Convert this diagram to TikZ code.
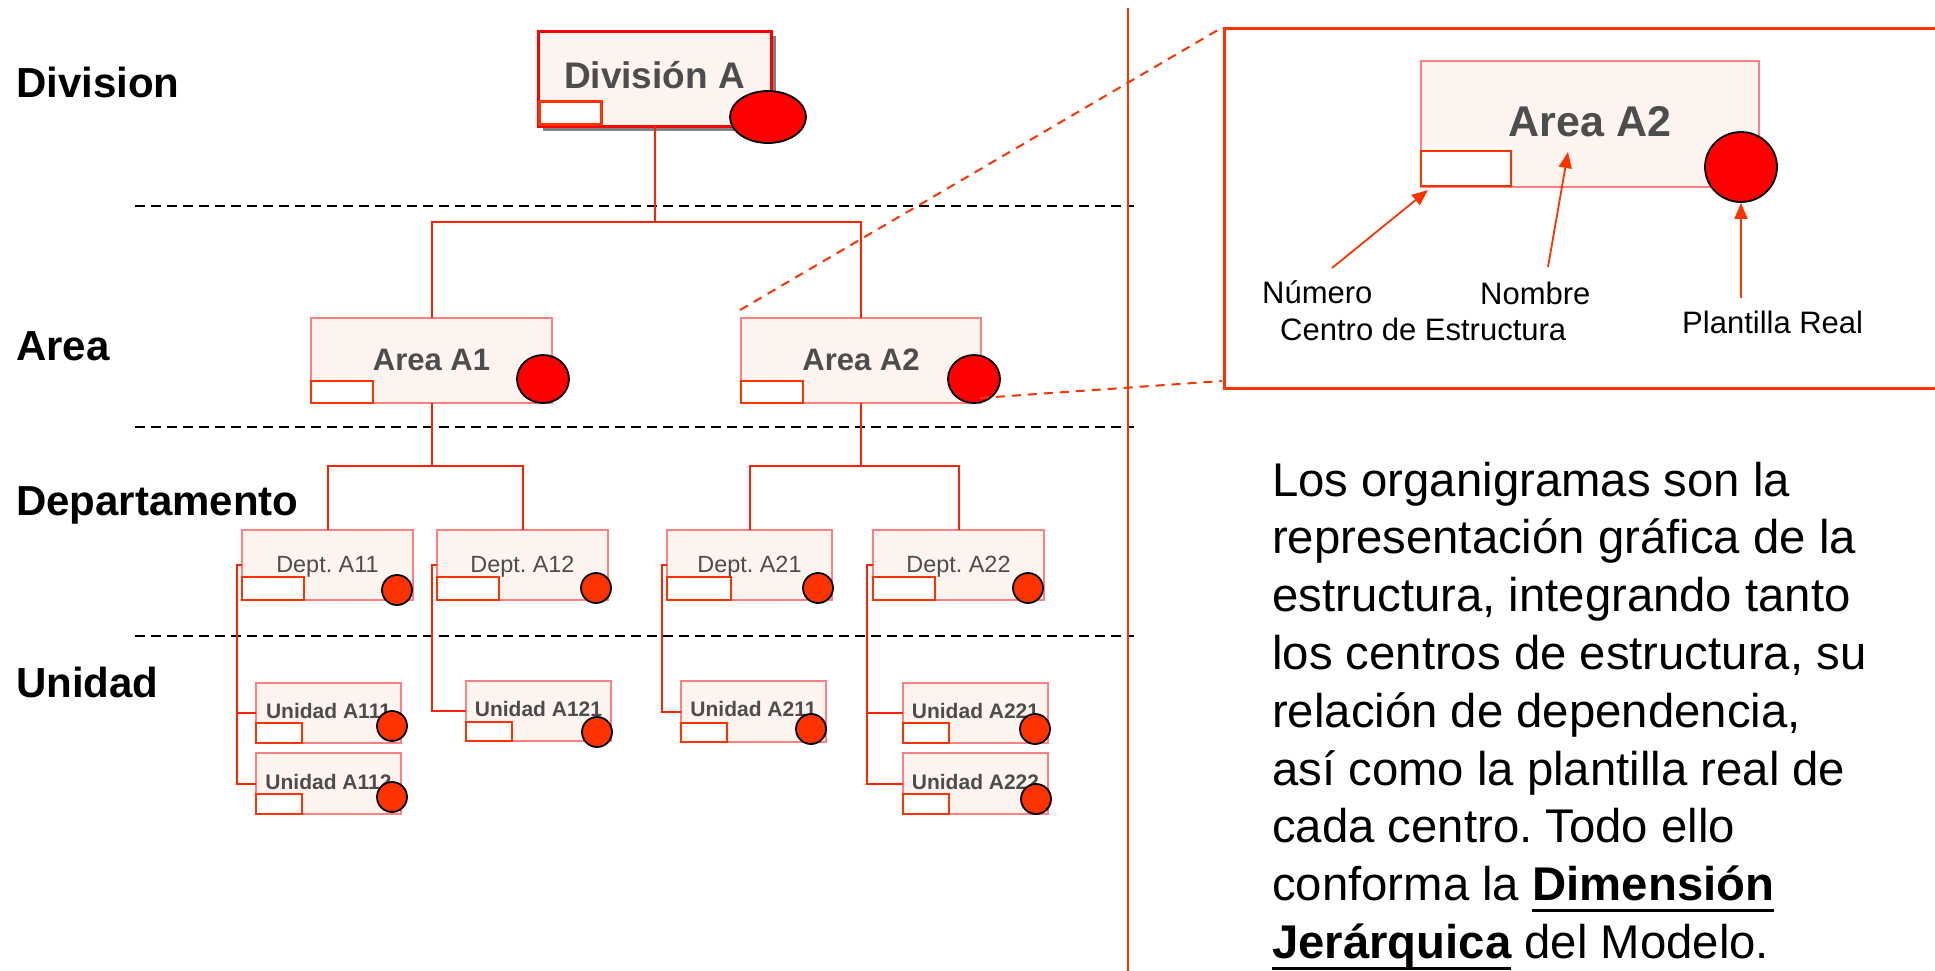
\documentclass[tikz,border=0pt]{standalone}
\usepackage{fontspec}
\usepackage{graphicx}
\setmainfont{Liberation Sans}
\frenchspacing
\usetikzlibrary{shapes.geometric,arrows.meta}
\definecolor{boxfill}{RGB}{253,243,239}
\definecolor{boxline}{RGB}{255,128,128}
\definecolor{orng}{RGB}{255,51,0}
\definecolor{conncol}{RGB}{255,34,0}
\definecolor{txtgray}{RGB}{77,77,77}
\definecolor{shadowgray}{RGB}{128,128,128}
\newcommand\ulbox[1]{\setbox0\hbox{#1}\rlap{\rule[-11pt]{\wd0}{3pt}}\box0\relax}
\begin{document}
\begin{tikzpicture}[x=1pt,y=-1pt,
  orgbox/.style={draw=boxline, fill=boxfill, line width=2pt, rectangle, inner sep=0pt, outer sep=0pt},
  numbox/.style={draw=orng, fill=white, line width=2.2pt, rectangle, inner sep=0pt, outer sep=0pt, anchor=south west},
  dot/.style={circle, draw=black, line width=1.8pt, fill=orng, inner sep=0pt, minimum size=30pt},
  bigdot/.style={ellipse, draw=black, line width=1.8pt, fill=red, inner sep=0pt},
  conn/.style={draw=conncol, line width=2pt},
  lvl/.style={font=\fontsize{42}{42}\selectfont\bfseries, anchor=base west, inner sep=0pt},
  sepline/.style={black, line width=2pt, dash pattern=on 10pt off 6pt},
  zoomline/.style={orng, line width=2pt, dash pattern=on 9pt off 7pt},
  arr/.style={orng, line width=1.8pt, -{Triangle[length=16pt,width=13pt]}},
  divtxt/.style={font=\fontsize{37}{37}\selectfont\bfseries, text=txtgray, anchor=base, inner sep=0pt},
  areatxt/.style={font=\fontsize{31}{31}\selectfont\bfseries, text=txtgray, anchor=base, inner sep=0pt},
  depttxt/.style={font=\fontsize{23.4}{23.4}\selectfont, text=txtgray, anchor=base, inner sep=0pt},
  unittxt/.style={font=\fontsize{21}{21}\selectfont\bfseries, text=txtgray, anchor=base, inner sep=0pt},
  lbl/.style={font=\fontsize{31}{31}\selectfont, anchor=base west, inner sep=0pt}
]
\useasboundingbox (0,0) rectangle (1935,970);

% level separators
\draw[sepline] (135,206) -- (1134,206);
\draw[sepline] (135,427) -- (1134,427);
\draw[sepline] (135,636) -- (1134,636);

% vertical separator
\draw[orng, line width=2.5pt] (1128,8) -- (1128,975);

% level labels
\node[lvl] (lDiv) at (16,97) {Division};
\node[lvl] (lArea) at (16,360) {Area};
\node[lvl] (lDep) at (16,515) {Departamento};
\node[lvl] (lUni) at (16,697) {Unidad};

% ---- boxes ----
\node[fill=shadowgray, inner sep=0pt, minimum width=233pt, minimum height=95pt] (divsh) at (659.5,83.5) {};
\node[orgbox, draw=red, line width=3pt, minimum width=233pt, minimum height=95pt] (div) at (654.5,78.5) {};

\node[orgbox, minimum width=241pt, minimum height=85pt] (a1) at (431.5,360.5) {};
\node[orgbox, minimum width=240pt, minimum height=85pt] (a2) at (861,360.5) {};

\node[orgbox, minimum width=171pt, minimum height=70pt] (d11) at (327.5,565) {};
\node[orgbox, minimum width=171pt, minimum height=70pt] (d12) at (522.5,565) {};
\node[orgbox, minimum width=165pt, minimum height=70pt] (d21) at (749.5,565) {};
\node[orgbox, minimum width=171pt, minimum height=70pt] (d22) at (958.5,565) {};

\node[orgbox, minimum width=145pt, minimum height=60pt] (u111) at (328.5,713) {};
\node[orgbox, minimum width=145pt, minimum height=61pt] (u112) at (328.5,783.5) {};
\node[orgbox, minimum width=145pt, minimum height=60pt] (u121) at (538.5,711) {};
\node[orgbox, minimum width=145pt, minimum height=61pt] (u211) at (753.5,711.5) {};
\node[orgbox, minimum width=145pt, minimum height=60pt] (u221) at (975.5,713) {};
\node[orgbox, minimum width=145pt, minimum height=61pt] (u222) at (975.5,783.5) {};

% ---- connectors ----
\coordinate (h1) at (654.5,222);
\draw[conn] (div.south) -- (h1);
\draw[conn] (h1) -| (a1.north);
\draw[conn] (h1) -| (a2.north);

\coordinate (h2) at (431.5,466);
\draw[conn] (a1.south) -- (h2);
\draw[conn] (h2) -| (d11.north);
\draw[conn] (h2) -| (d12.north);

\coordinate (h3) at (861,466);
\draw[conn] (a2.south) -- (h3);
\draw[conn] (h3) -| (d21.north);
\draw[conn] (h3) -| (d22.north);

\draw[conn] (d11.west) -- ++(-5,0) |- (u112.west);
\draw[conn] (d11.west) ++(-5,0) |- (u111.west);
\draw[conn] (d12.west) -- ++(-5,0) |- (u121.west);
\draw[conn] (d21.west) -- ++(-5,0) |- (u211.west);
\draw[conn] (d22.west) -- ++(-6,0) |- (u222.west);
\draw[conn] (d22.west) ++(-6,0) |- (u221.west);

% ---- number boxes ----
\node[numbox, minimum width=62pt, minimum height=23pt] (divn) at ([xshift=1.5pt,yshift=1.5pt]div.south west) {};
\node[numbox, minimum width=62pt, minimum height=22pt] (a1n) at (a1.south west) {};
\node[numbox, minimum width=62pt, minimum height=22pt] (a2n) at (a2.south west) {};
\node[numbox, minimum width=62pt, minimum height=23pt] (d11n) at (d11.south west) {};
\node[numbox, minimum width=62pt, minimum height=23pt] (d12n) at (d12.south west) {};
\node[numbox, minimum width=64pt, minimum height=23pt] (d21n) at (d21.south west) {};
\node[numbox, minimum width=62pt, minimum height=23pt] (d22n) at (d22.south west) {};
\node[numbox, minimum width=46pt, minimum height=20pt] (u111n) at (u111.south west) {};
\node[numbox, minimum width=46pt, minimum height=20pt] (u112n) at (u112.south west) {};
\node[numbox, minimum width=46pt, minimum height=19pt] (u121n) at (u121.south west) {};
\node[numbox, minimum width=46pt, minimum height=19pt] (u211n) at (u211.south west) {};
\node[numbox, minimum width=46pt, minimum height=20pt] (u221n) at (u221.south west) {};
\node[numbox, minimum width=46pt, minimum height=20pt] (u222n) at (u222.south west) {};

% ---- texts ----
\node[divtxt] (divt) at (654.5,88) {División A};
\node[areatxt] (a1t) at (431.5,370) {Area A1};
\node[areatxt] (a2t) at (861,370) {Area A2};
\node[depttxt] (d11t) at (327.5,572) {Dept. A11};
\node[depttxt] (d12t) at (522.5,572) {Dept. A12};
\node[depttxt] (d21t) at (749.5,572) {Dept. A21};
\node[depttxt] (d22t) at (958.5,572) {Dept. A22};
\node[unittxt] (u111t) at (328.5,718) {Unidad A111};
\node[unittxt] (u112t) at (328.5,789) {Unidad A112};
\node[unittxt] (u121t) at (538.5,716) {Unidad A121};
\node[unittxt] (u211t) at (753.5,716) {Unidad A211};
\node[unittxt] (u221t) at (975.5,718) {Unidad A221};
\node[unittxt] (u222t) at (975.5,789) {Unidad A222};

% ---- headcount dots ----
\node[bigdot, minimum width=76pt, minimum height=52pt] (divc) at (768,117) {};
\node[bigdot, minimum width=52pt, minimum height=48pt] (a1c) at (543,379) {};
\node[bigdot, minimum width=52pt, minimum height=48pt] (a2c) at (974,379) {};
\node[dot] (d11c) at (397,590) {};
\node[dot] (d12c) at (596,588) {};
\node[dot] (d21c) at (818,588) {};
\node[dot] (d22c) at (1028,588) {};
\node[dot] (u111c) at (392,726) {};
\node[dot] (u112c) at (392,797) {};
\node[dot] (u121c) at (597,732) {};
\node[dot] (u211c) at (811,729) {};
\node[dot] (u221c) at (1035,729) {};
\node[dot] (u222c) at (1036,799) {};

% ---- zoom panel ----
\node[draw=orng, line width=2.5pt, inner sep=0pt, minimum width=725pt, minimum height=360pt, anchor=north west] (panel) at (1223,27) {};
\coordinate (z1) at (740,310);
\coordinate (z2) at (980,398);
\coordinate (z3) at (1222,381);
\draw[zoomline] (z1) -- (panel.north west);
\draw[zoomline] (z2) -- (z3);

\node[orgbox, minimum width=338pt, minimum height=126pt] (za) at (1590,124) {};
\node[numbox, minimum width=90pt, minimum height=35pt] (zan) at ([yshift=1pt]za.south west) {};
\node[font=\fontsize{43}{43}\selectfont\bfseries, text=txtgray, anchor=base, inner sep=0pt] (zat) at (1590,136) {Area A2};
\node[bigdot, minimum width=72pt, minimum height=70pt] (zac) at (1741,167) {};

\node[lbl] (lnum) at (1262,303) {Número};
\node[lbl] (lnom) at (1480,304) {Nombre};
\node[lbl] (lcen) at (1280,340) {Centro de Estructura};
\node[lbl] (lpla) at (1682,333) {Plantilla Real};

\coordinate (t1) at (1332,268);
\coordinate (t2) at (1548,267);
\coordinate (t3) at (1741,298);
\coordinate (p1) at (1428,190);
\coordinate (p2) at (1568,152);
\draw[arr] (t1) -- (p1);
\draw[arr] (t2) -- (p2);
\draw[arr] (t3) -- (zac.south);

% ---- paragraph ----
\node[anchor=north west, inner sep=0pt] (para) at (1272,455.5) {\fontsize{47.3}{57.8}\selectfont\begin{tabular}{@{}l@{}}
Los organigramas son la\\
representación gráfica de la\\
estructura, integrando tanto\\
los centros de estructura, su\\
relación de dependencia,\\
así como la plantilla real de\\
cada centro. Todo ello\\
conforma la \ulbox{\bfseries Dimensión}\\
\ulbox{\bfseries Jerárquica} del Modelo.
\end{tabular}};
\end{tikzpicture}
\end{document}
